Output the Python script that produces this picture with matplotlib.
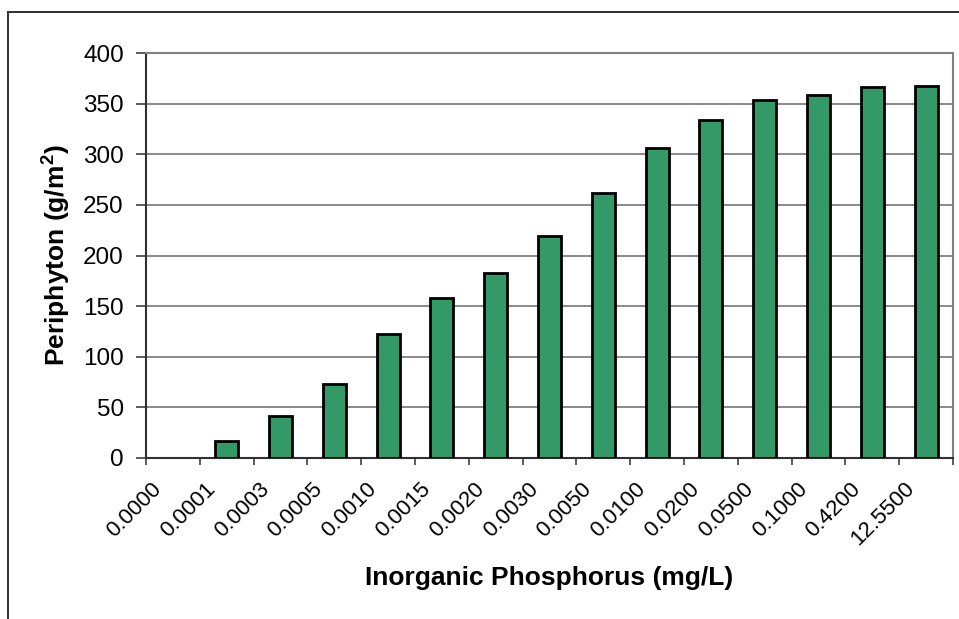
import numpy as np
import matplotlib.pyplot as plt
import matplotlib.transforms as mtransforms
from matplotlib.lines import Line2D
from matplotlib.ticker import FixedLocator, NullFormatter

plt.rcParams['font.family'] = ['Liberation Sans', 'DejaVu Sans']

# phosphorus levels (mg/L) and periphyton biomass (g/m2)
phosphorus = ["0.0000", "0.0001", "0.0003", "0.0005", "0.0010", "0.0015", "0.0020",
              "0.0030", "0.0050", "0.0100", "0.0200", "0.0500", "0.1000", "0.4200", "12.5500"]
periphyton = [0, 17, 41, 73, 122, 158, 183, 219, 262, 306, 334, 354, 359, 366, 367]

fig = plt.figure(figsize=(9.59, 6.19), dpi=100)
ax = fig.add_axes([146 / 959, 1 - 458 / 619, (953 - 146) / 959, (458 - 53) / 619])

x = np.arange(len(phosphorus))
bars = ax.bar(x, periphyton, width=0.43, color="#339966", edgecolor="black", linewidth=2.0, zorder=3)
# a zero bar has no visible outline in the original
for b, v in zip(bars, periphyton):
    if v == 0:
        b.set_visible(False)

ax.set_xlim(-0.5, len(phosphorus) - 0.5)
ax.set_ylim(0, 400)
ax.set_yticks(np.arange(0, 401, 50))
ax.yaxis.grid(True, color="#808080", linewidth=1.3, zorder=0)

# category labels at centres, tick marks at category boundaries
ax.set_xticks(x)
ax.set_xticklabels(phosphorus, rotation=45, ha="right", va="top", rotation_mode="anchor")
ax.tick_params(axis="x", which="major", length=0, pad=14.5, labelsize=16)
ax.xaxis.set_minor_locator(FixedLocator(np.arange(-0.5, len(phosphorus), 1.0)))
ax.xaxis.set_minor_formatter(NullFormatter())
ax.tick_params(axis="x", which="minor", length=5, width=1.2, color="#404040")
offset = mtransforms.ScaledTranslation(-22 / 100, 0, fig.dpi_scale_trans)
for lbl in ax.get_xticklabels():
    lbl.set_transform(lbl.get_transform() + offset)

ax.tick_params(axis="y", length=7, width=1.2, color="#404040", pad=9, labelsize=17.5)

for side in ["top", "right"]:
    ax.spines[side].set_color("#808080")
    ax.spines[side].set_linewidth(1.5)
for side in ["left", "bottom"]:
    ax.spines[side].set_color("#303030")
    ax.spines[side].set_linewidth(1.5)

ax.set_ylabel("Periphyton (g/m$^\\mathregular{2}$)", fontsize=19, fontweight="bold",
              va="center")
ax.yaxis.set_label_coords(56 / 959, 0.5 * (1 - 458 / 619 + 1 - 53 / 619), transform=fig.transFigure)
ax.set_xlabel("Inorganic Phosphorus (mg/L)", fontsize=19, fontweight="bold", va="center")
ax.xaxis.set_label_coords(549.5 / 959, 1 - 578 / 619, transform=fig.transFigure)

# chart border (only left and top visible)
fig.add_artist(Line2D([8 / 959, 8 / 959], [0, 1 - 12 / 619], transform=fig.transFigure,
                      color="#303030", linewidth=1.4))
fig.add_artist(Line2D([8 / 959, 1], [1 - 12 / 619, 1 - 12 / 619], transform=fig.transFigure,
                      color="#303030", linewidth=1.4))

fig.savefig("out.png", dpi=100)
